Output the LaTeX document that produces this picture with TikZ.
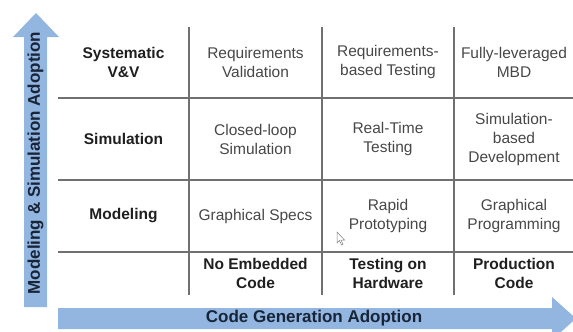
\documentclass[tikz,border=0pt]{standalone}
\usepackage{fontspec}
\setmainfont{Liberation Sans}
\definecolor{arrowblue}{RGB}{146,182,224}
\definecolor{axisnavy}{RGB}{24,36,56}
\definecolor{gridgray}{RGB}{112,112,112}

\begin{document}
\begin{tikzpicture}[x=1pt, y=-1pt,
    every node/.style={align=center, inner sep=0pt, font=\fontsize{15.5}{19}\selectfont},
    rowlabel/.style={font=\fontsize{15.5}{19}\selectfont\bfseries, text=black!88},
    cell/.style={text=black!72},
    axislabel/.style={font=\fontsize{17}{20}\selectfont\bfseries, text=axisnavy},
    gridline/.style={draw=gridgray, line width=1.2pt}]
            \useasboundingbox (0,0) rectangle (573,332);
            \fill[arrowblue] (24,307) -- (24,37) -- (13,37) -- (36,13) -- (59,37) -- (47,37) -- (47,307) -- cycle;
            \fill[arrowblue] (58,308) -- (552,308) -- (552,297) -- (576,318.5) -- (552,340) -- (552,329) -- (58,329) -- cycle;
            \node[axislabel, rotate=90] (yaxis) at (35.5,163) {Modeling \& Simulation Adoption};
            \node[axislabel] (xaxis) at (314,318.5) {Code Generation Adoption};

            \foreach \y in {98,180,252} {
                \draw[gridline] (58,\y) -- (573,\y);
            }
            \foreach \x in {189,322,454} {
                \draw[gridline] (\x,27) -- (\x,295);
            }

            \node[rowlabel] (V) at (123.5,62) {Systematic\\V\&V};
            \node[rowlabel] (S) at (123.5,139) {Simulation};
            \node[rowlabel] (M) at (123.5,216) {Modeling};

            \foreach \i/\x/\t in {1/255.5/{Requirements\\Validation}, 2/388/{Requirements-\\based Testing}, 3/514/{Fully-leveraged\\MBD}} {
                \node[cell] (V\i) at (\x,62) {\t};
            }
            \foreach \i/\x/\t in {1/255.5/{Closed-loop\\Simulation}, 2/388/{Real-Time\\Testing}, 3/514/{Simulation-\\based\\Development}} {
                \node[cell] (S\i) at (\x,139) {\t};
            }
            \foreach \i/\x/\t in {1/255.5/{Graphical Specs}, 2/388/{Rapid\\Prototyping}, 3/514/{Graphical\\Programming}} {
                \node[cell] (M\i) at (\x,216) {\t};
            }
            \foreach \i/\x/\t in {1/255.5/{No Embedded\\Code}, 2/388/{Testing on\\Hardware}, 3/514/{Production\\Code}} {
                \node[rowlabel] (C\i) at (\x,273) {\t};
            }

            \filldraw[fill=white, draw=gray, line width=0.5pt] (337,232) -- (337,243) -- (339.5,240.5) -- (341.5,245) -- (343,244.3) -- (341,240) -- (344.5,240) -- cycle;

        \end{tikzpicture}
\end{document}
